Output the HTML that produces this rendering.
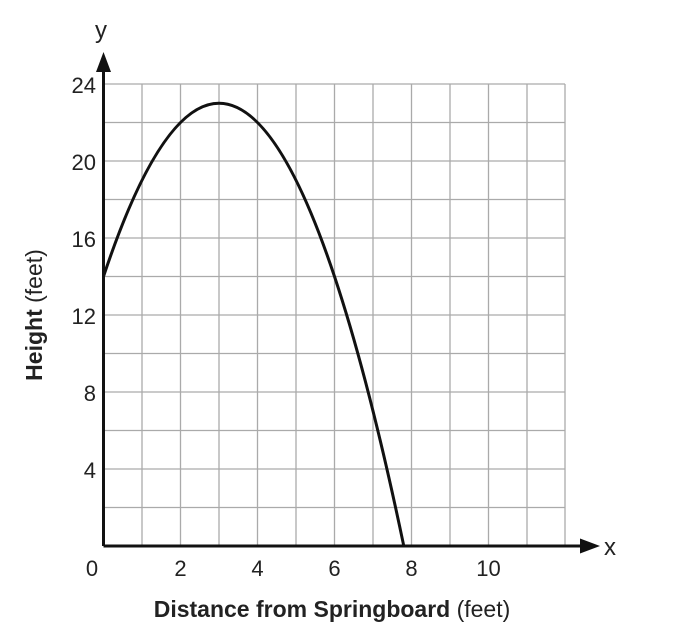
<!DOCTYPE html>
<html><head><meta charset="utf-8"><style>body{margin:0;background:#fff}svg{display:block}</style></head>
<body>
<svg width="682" height="636" viewBox="0 0 682 636" xmlns="http://www.w3.org/2000/svg" font-family="Liberation Sans, Arial, sans-serif">
<g stroke="#aaa" stroke-width="1.3">
<line x1="142" y1="84" x2="142" y2="546"/><line x1="180.5" y1="84" x2="180.5" y2="546"/><line x1="219" y1="84" x2="219" y2="546"/><line x1="257.5" y1="84" x2="257.5" y2="546"/><line x1="296" y1="84" x2="296" y2="546"/><line x1="334.5" y1="84" x2="334.5" y2="546"/><line x1="373" y1="84" x2="373" y2="546"/><line x1="411.5" y1="84" x2="411.5" y2="546"/><line x1="450" y1="84" x2="450" y2="546"/><line x1="488.5" y1="84" x2="488.5" y2="546"/><line x1="527" y1="84" x2="527" y2="546"/><line x1="565" y1="84" x2="565" y2="546"/>
<line x1="103.5" y1="84" x2="565" y2="84"/><line x1="103.5" y1="122.5" x2="565" y2="122.5"/><line x1="103.5" y1="161" x2="565" y2="161"/><line x1="103.5" y1="199.5" x2="565" y2="199.5"/><line x1="103.5" y1="238" x2="565" y2="238"/><line x1="103.5" y1="276.5" x2="565" y2="276.5"/><line x1="103.5" y1="315" x2="565" y2="315"/><line x1="103.5" y1="353.5" x2="565" y2="353.5"/><line x1="103.5" y1="392" x2="565" y2="392"/><line x1="103.5" y1="430.5" x2="565" y2="430.5"/><line x1="103.5" y1="469" x2="565" y2="469"/><line x1="103.5" y1="507.5" x2="565" y2="507.5"/>
</g>
<g stroke="#111" stroke-width="3" fill="none">
<line x1="103.5" y1="546" x2="103.5" y2="66"/>
<line x1="103.5" y1="546" x2="585" y2="546"/>
<path d="M103.5,276.5 Q219,-70 334.5,276.5 Q369.15,380.45 403.8,546"/>
</g>
<polygon points="103.5,52 96,72 111,72" fill="#111"/>
<polygon points="600,546 580,538.5 580,553.5" fill="#111"/>
<g font-size="22" fill="#222" text-anchor="end">
<text x="96" y="93">24</text><text x="96" y="170">20</text><text x="96" y="247">16</text><text x="96" y="324">12</text><text x="96" y="401">8</text><text x="96" y="478">4</text>
</g>
<g font-size="22" fill="#222" text-anchor="middle">
<text x="92" y="576">0</text><text x="180.5" y="576">2</text><text x="257.5" y="576">4</text><text x="334.5" y="576">6</text><text x="411.5" y="576">8</text><text x="488.5" y="576">10</text>
<text x="101" y="38" font-size="24">y</text>
</g>
<text x="604" y="555" font-size="24" fill="#222">x</text>
<text x="332" y="617" font-size="23" text-anchor="middle" fill="#222"><tspan font-weight="bold">Distance from Springboard</tspan> (feet)</text>
<text transform="translate(42,315) rotate(-90)" font-size="23" text-anchor="middle" fill="#222"><tspan font-weight="bold">Height</tspan> (feet)</text>
</svg>
</body></html>
